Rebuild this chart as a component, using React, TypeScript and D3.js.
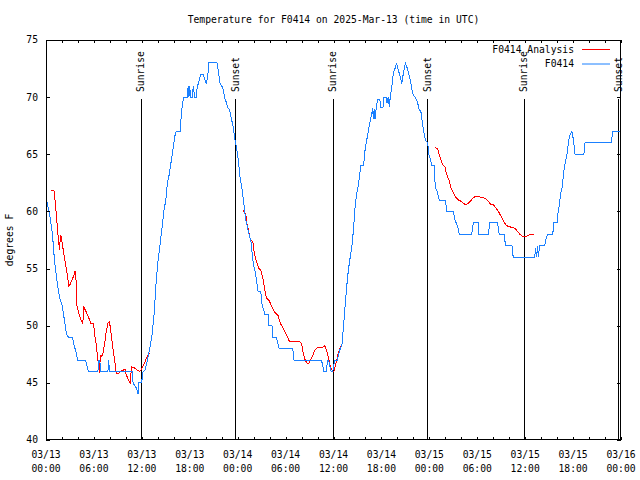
import React from "react";
import * as d3 from "d3";

// ---------- data ----------
const titleText = "Temperature for F0414 on 2025-Mar-13 (time in UTC)";
const yLabel = "degrees F";
const yTicks = [40, 45, 50, 55, 60, 65, 70, 75];
const xTickHours = [0, 6, 12, 18, 24, 30, 36, 42, 48, 54, 60, 66, 72];
const xTickDates = ["03/13", "03/13", "03/13", "03/13", "03/14", "03/14", "03/14", "03/14", "03/15", "03/15", "03/15", "03/15", "03/16"];
const xTickTimes = ["00:00", "06:00", "12:00", "18:00", "00:00", "06:00", "12:00", "18:00", "00:00", "06:00", "12:00", "18:00", "00:00"];
const eventHours = [11.9, 23.72, 35.88, 47.73, 59.85, 71.65];
const eventLabels = ["Sunrise", "Sunset", "Sunrise", "Sunset", "Sunrise", "Sunset"];
const seriesNames = ["F0414 Analysis", "F0414"];

// hours since 03/13 00:00 UTC, degrees F
const observed: [number, number][] = [
  [0.05, 61.1], [0.5, 59.5], [0.8, 58.1], [1.05, 55.8], [1.3, 54.3], [1.55, 53.1], [1.8, 52.2], [2.05, 51.7],
  [2.3, 50.5], [2.55, 49.3], [2.8, 49.0], [3.3, 49.0], [3.55, 48.2], [3.8, 47.6], [3.95, 47.0], [4.95, 47.0],
  [5.3, 46.0], [6.5, 46.0], [6.6, 47.0], [6.75, 47.0], [6.8, 46.0], [7.75, 46.0], [7.85, 47.0], [7.95, 46.0],
  [10.8, 46.0], [10.9, 45.0], [11.35, 44.5], [11.55, 44.0], [11.6, 45.0], [11.95, 45.0], [12.05, 45.4],
  [12.15, 46.0], [12.4, 46.1], [12.65, 46.8], [12.85, 47.5], [13.05, 48.2], [13.3, 49.3], [13.55, 51.1],
  [13.75, 53.4], [14.0, 55.5], [14.25, 56.9], [14.5, 58.4], [14.75, 60.0], [15.0, 61.0], [15.2, 62.5],
  [15.45, 63.3], [15.7, 64.5], [15.9, 65.4], [16.1, 66.5], [16.3, 67.0], [16.8, 67.0], [16.9, 68.0],
  [17.05, 69.2], [17.25, 70.0], [17.7, 70.0], [17.8, 71.0], [17.9, 70.0], [18.0, 71.0], [18.1, 70.0],
  [18.3, 70.0], [18.45, 71.0], [18.6, 70.0], [18.8, 70.0], [18.95, 71.0], [19.1, 71.2], [19.35, 72.0],
  [19.7, 72.0], [19.85, 71.6], [20.05, 71.2], [20.25, 71.8], [20.4, 73.0], [21.4, 73.0], [21.6, 72.2],
  [21.8, 71.2], [22.15, 70.8], [22.35, 70.0], [22.6, 69.5], [22.8, 69.0], [23.0, 68.9], [23.2, 68.1],
  [23.4, 67.6], [23.65, 66.3], [23.9, 65.4], [24.1, 64.4], [24.3, 63.0], [24.55, 61.9], [24.75, 60.8],
  [25.0, 59.3], [25.3, 58.4], [25.5, 57.8], [25.7, 57.2], [25.85, 56.0], [26.0, 55.3], [26.15, 54.9],
  [26.35, 54.0], [26.55, 53.0], [26.9, 53.0], [27.0, 52.0], [27.4, 51.0], [27.8, 51.0], [27.9, 50.0],
  [28.3, 50.0], [28.35, 49.0], [28.85, 49.0], [29.2, 48.0], [30.9, 48.0], [31.05, 47.0], [34.5, 47.0],
  [34.7, 46.3], [34.75, 46.0], [35.1, 46.0], [35.25, 47.0], [35.4, 47.0], [35.55, 46.4], [35.7, 46.0],
  [35.9, 46.0], [36.05, 46.6], [36.2, 47.0], [36.5, 47.0], [36.6, 47.4], [36.8, 47.9], [37.05, 48.3],
  [37.2, 49.5], [37.45, 51.7], [37.65, 53.4], [37.85, 54.8], [38.05, 55.8], [38.3, 56.9], [38.5, 58.4],
  [38.7, 60.4], [38.9, 61.6], [39.1, 62.2], [39.25, 63.0], [39.4, 64.0], [39.8, 64.0], [39.85, 64.9],
  [40.1, 66.0], [40.3, 66.8], [40.5, 67.6], [40.65, 68.1], [40.9, 69.0], [41.0, 68.1], [41.1, 69.0],
  [41.2, 68.1], [41.35, 69.0], [41.5, 69.8], [41.8, 69.8], [41.9, 69.1], [42.2, 69.1], [42.25, 70.0],
  [42.6, 70.0], [42.7, 69.5], [42.85, 70.0], [43.0, 69.1], [43.1, 70.0], [43.35, 71.2], [43.5, 72.1],
  [43.7, 72.5], [43.9, 73.0], [44.1, 72.4], [44.35, 71.8], [44.55, 71.2], [44.75, 72.1], [45.0, 73.0],
  [45.3, 72.4], [45.4, 72.1], [45.7, 71.2], [45.9, 70.3], [46.2, 70.0], [46.5, 69.6], [46.7, 69.0],
  [46.95, 68.7], [47.1, 67.9], [47.3, 67.0], [47.5, 66.25], [47.8, 66.0], [47.9, 65.1], [48.1, 64.65],
  [48.3, 64.0], [48.6, 64.0], [48.65, 63.0], [48.8, 62.0], [49.0, 61.7], [49.25, 61.0], [50.0, 61.0],
  [50.2, 60.0], [51.0, 60.0], [51.2, 59.25], [51.55, 58.7], [51.75, 58.0], [53.3, 58.0], [53.5, 59.0],
  [54.1, 59.0], [54.2, 58.0], [55.4, 58.0], [55.55, 59.0], [56.55, 59.0], [56.75, 58.0], [57.35, 58.0],
  [57.55, 57.0], [58.35, 57.0], [58.5, 56.0], [61.2, 56.0], [61.3, 56.8], [61.45, 56.0], [61.55, 57.0],
  [61.65, 56.0], [61.8, 57.0], [62.45, 57.0], [62.6, 57.6], [62.8, 58.0], [63.45, 58.0], [63.6, 59.0],
  [64.0, 59.0], [64.1, 59.8], [64.3, 60.7], [64.45, 61.6], [64.65, 62.2], [64.8, 63.3], [65.0, 64.2],
  [65.25, 65.1], [65.45, 66.25], [65.65, 66.8], [65.85, 67.0], [66.05, 66.25], [66.25, 65.0], [67.35, 65.0],
  [67.5, 66.0], [70.8, 66.0], [70.95, 67.0], [72.0, 67.0],
];

const analysisDay1: [number, number][] = [
  [0.6, 61.8], [1.0, 61.8], [1.2, 60.5], [1.4, 58.8], [1.6, 57.2], [1.7, 56.6], [1.8, 57.9], [1.9, 57.8],
  [2.1, 56.9], [2.3, 56.0], [2.55, 55.0], [2.75, 54.0], [2.85, 53.5], [3.0, 53.6], [3.25, 54.0], [3.5, 54.4],
  [3.65, 54.8], [3.8, 53.7], [3.88, 51.7], [4.1, 51.1], [4.4, 50.5], [4.6, 50.2], [4.75, 51.6], [5.05, 51.2],
  [5.4, 50.6], [5.65, 50.15], [5.95, 50.2], [6.1, 49.2], [6.3, 48.3], [6.5, 47.0], [6.7, 45.9], [6.8, 47.4],
  [6.95, 47.3], [7.15, 47.6], [7.35, 48.5], [7.55, 49.5], [7.75, 50.2], [7.95, 50.35], [8.1, 49.6],
  [8.4, 47.9], [8.65, 46.7], [8.8, 45.8], [9.1, 45.8], [9.3, 46.0], [9.65, 46.1], [9.9, 46.2], [10.05, 45.7],
  [10.3, 45.3], [10.55, 45.0], [10.7, 46.4], [11.1, 46.3], [11.45, 46.1], [11.75, 46.0], [11.95, 46.2],
  [12.15, 46.5], [12.4, 46.85], [12.65, 47.3], [12.9, 47.6], [13.1, 47.5],
];
const analysisDay2: [number, number][] = [
  [24.7, 60.1], [25.0, 59.8], [25.15, 59.0], [25.4, 58.2], [25.6, 57.5], [25.9, 57.35], [26.1, 56.3],
  [26.4, 55.5], [26.65, 55.0], [26.9, 54.9], [27.2, 54.0], [27.4, 53.1], [27.6, 52.4], [27.9, 52.25],
  [28.2, 51.8], [28.6, 51.2], [29.05, 50.9], [29.35, 50.2], [29.7, 49.8], [29.9, 49.5], [30.25, 49.0],
  [30.5, 48.6], [31.8, 48.6], [32.0, 48.45], [32.2, 47.6], [32.45, 47.0], [32.7, 46.7], [32.9, 46.7],
  [33.1, 47.0], [33.4, 47.4], [33.7, 47.9], [34.0, 48.1], [34.6, 48.1], [34.9, 48.25], [35.05, 48.0],
  [35.2, 47.7], [35.4, 47.1], [35.6, 46.4], [35.85, 46.1], [36.05, 46.0], [36.3, 46.7], [36.6, 47.6],
  [36.9, 48.2], [37.0, 48.3],
];
const analysisDay3: [number, number][] = [
  [48.7, 65.6], [49.05, 65.5], [49.25, 64.9], [49.45, 64.5], [49.65, 64.1], [49.95, 63.9], [50.15, 63.3],
  [50.45, 62.75], [50.7, 62.1], [50.95, 61.7], [51.25, 61.3], [51.65, 61.0], [51.95, 60.9], [52.25, 60.7],
  [52.55, 60.6], [52.85, 60.7], [53.15, 60.9], [53.5, 61.2], [53.75, 61.3], [54.5, 61.25], [54.95, 61.15],
  [55.4, 60.9], [55.65, 60.65], [56.05, 60.56], [56.35, 60.3], [56.65, 60.0], [56.95, 59.6], [57.25, 59.2],
  [57.6, 58.8], [57.85, 58.7], [58.35, 58.6], [58.75, 58.5], [59.05, 58.25], [59.35, 58.0], [59.6, 57.85],
  [59.85, 57.8], [60.2, 57.85], [60.55, 57.95], [61.05, 58.0],
];

// ---------- layout ----------
const W = 640, H = 480;
const L = 46, R = 621, T = 40, B = 440;
const FONT = "'DejaVu Sans Mono', 'Liberation Mono', monospace";
const FS = 9.7;
const RED = "#ff0000";
const BLUE = "#1a80ff";

export default function App() {
  const x = d3.scaleLinear().domain([0, 72]).range([L, R]);
  const y = d3.scaleLinear().domain([40, 75]).range([B, T]);
  const line = d3.line<[number, number]>().x((d) => x(d[0])).y((d) => y(d[1]));
  const minorHours = d3.range(0, 73, 2);

  return (
    <svg width={W} height={H} style={{ position: "absolute", left: 0, top: 0, background: "#fff" }}
      fontFamily={FONT} fontSize={FS}>
      <rect x={0} y={0} width={W} height={H} fill="#fff" />
      <text x={(L + R) / 2} y={23} textAnchor="middle">{titleText}</text>

      {/* event lines */}
      {eventHours.map((h, i) => (
        <g key={"ev" + i}>
          <line x1={Math.round(x(h)) + 0.5} x2={Math.round(x(h)) + 0.5} y1={y(70) + 2} y2={B}
            stroke="#000" strokeWidth={1} shapeRendering="crispEdges" />
          <text transform={`translate(${x(h)},92) rotate(-90)`} dy="0.35em" textAnchor="start">{eventLabels[i]}</text>
        </g>
      ))}

      {/* series */}
      {[analysisDay1, analysisDay2, analysisDay3].map((seg, i) => (
        <path key={"a" + i} d={line(seg) || ""} fill="none" stroke={RED} strokeWidth={1} shapeRendering="crispEdges" />
      ))}
      <path d={line(observed) || ""} fill="none" stroke={BLUE} strokeWidth={1} shapeRendering="crispEdges" />

      {/* frame */}
      <rect x={L + 0.5} y={T + 0.5} width={R - L - 1} height={B - T - 1} fill="none" stroke="#000"
        strokeWidth={1} shapeRendering="crispEdges" />

      {/* y ticks */}
      {yTicks.map((v) => (
        <g key={"y" + v}>
          <line x1={L} x2={L + 4} y1={Math.round(y(v)) + 0.5} y2={Math.round(y(v)) + 0.5} stroke="#000" shapeRendering="crispEdges" />
          <line x1={R - 4} x2={R} y1={Math.round(y(v)) + 0.5} y2={Math.round(y(v)) + 0.5} stroke="#000" shapeRendering="crispEdges" />
          <text x={38} y={y(v)} dy="0.35em" textAnchor="end">{v}</text>
        </g>
      ))}

      {/* x ticks */}
      {minorHours.map((h) => (
        <g key={"xm" + h}>
          <line x1={Math.round(x(h)) + 0.5} x2={Math.round(x(h)) + 0.5} y1={B} y2={B - 3} stroke="#000" shapeRendering="crispEdges" />
          <line x1={Math.round(x(h)) + 0.5} x2={Math.round(x(h)) + 0.5} y1={T} y2={T + 3} stroke="#000" shapeRendering="crispEdges" />
        </g>
      ))}
      {xTickHours.map((h, i) => (
        <g key={"xl" + h}>
          <text x={x(h)} y={458} textAnchor="middle">{xTickDates[i]}</text>
          <text x={x(h)} y={472} textAnchor="middle">{xTickTimes[i]}</text>
        </g>
      ))}

      {/* y label */}
      <text transform={`translate(10,${(T + B) / 2}) rotate(-90)`} dy="0.35em" textAnchor="middle">{yLabel}</text>

      {/* legend */}
      <text x={574} y={49.5} dy="0.35em" textAnchor="end">{seriesNames[0]}</text>
      <line x1={582} x2={610} y1={49.5} y2={49.5} stroke={RED} strokeWidth={1} />
      <text x={574} y={64} dy="0.35em" textAnchor="end">{seriesNames[1]}</text>
      <line x1={582} x2={610} y1={64} y2={64} stroke={BLUE} strokeWidth={1} />
    </svg>
  );
}
